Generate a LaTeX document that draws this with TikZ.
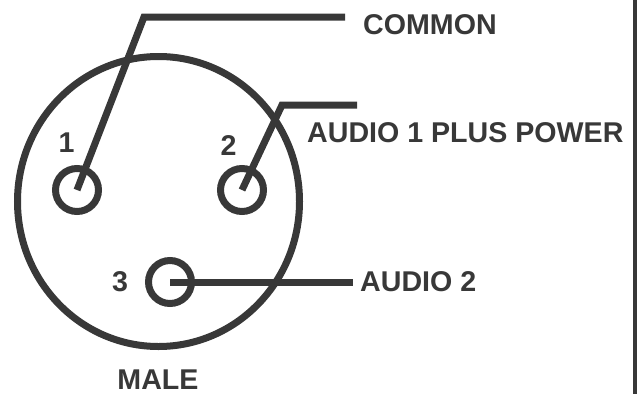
\documentclass[tikz,border=0pt]{standalone}
\usepackage{fontspec}
\setmainfont{Liberation Sans}
\usetikzlibrary{shapes.geometric}
\definecolor{ink}{RGB}{56,56,56}
\begin{document}
\begin{tikzpicture}[x=1pt,y=-1pt,
  wire/.style={draw=ink,line width=7pt,line join=miter,line cap=butt},
  pin/.style={circle,draw=ink,line width=7pt,minimum size=43pt,inner sep=0pt},
  lbl/.style={text=ink,font=\fontsize{28.6}{28.6}\selectfont\bfseries,inner sep=0pt},
]
\useasboundingbox (0,0) rectangle (642,394);
\node[ellipse,draw=ink,line width=7pt,minimum width=282pt,minimum height=290pt,inner sep=0pt] (body) at (158.5,201.5) {};
\node[pin] (p1) at (77,190) {};
\node[pin] (p2) at (242,190) {};
\node[pin] (p3) at (170,282) {};
\coordinate (c1a) at (144,17);
\coordinate (c1b) at (345,17);
\coordinate (c2a) at (282,105);
\coordinate (c2b) at (357,105);
\coordinate (c3b) at (353,282);
\draw[wire] (p1.center) -- (c1a) -- (c1b);
\draw[wire] (p2.center) -- (c2a) -- (c2b);
\draw[wire] (p3.center) -- (c3b);
\node[lbl,anchor=center] (n1) at (66.5,143) {1};
\node[lbl,anchor=center] (n2) at (228.5,146) {2};
\node[lbl,anchor=center] (n3) at (120,282) {3};
\node[lbl,anchor=west] (common) at (363,25) {COMMON};
\node[lbl,anchor=west] (aud1) at (307,133) {AUDIO 1 PLUS POWER};
\node[lbl,anchor=west] (aud2) at (360,282) {AUDIO 2};
\node[lbl,anchor=base] (male) at (158,389.5) {MALE};
\coordinate (rt) at (635,0);
\coordinate (rb) at (635,394);
\draw[draw=ink,line width=4.5pt] (rt) -- (rb);
\end{tikzpicture}
\end{document}
